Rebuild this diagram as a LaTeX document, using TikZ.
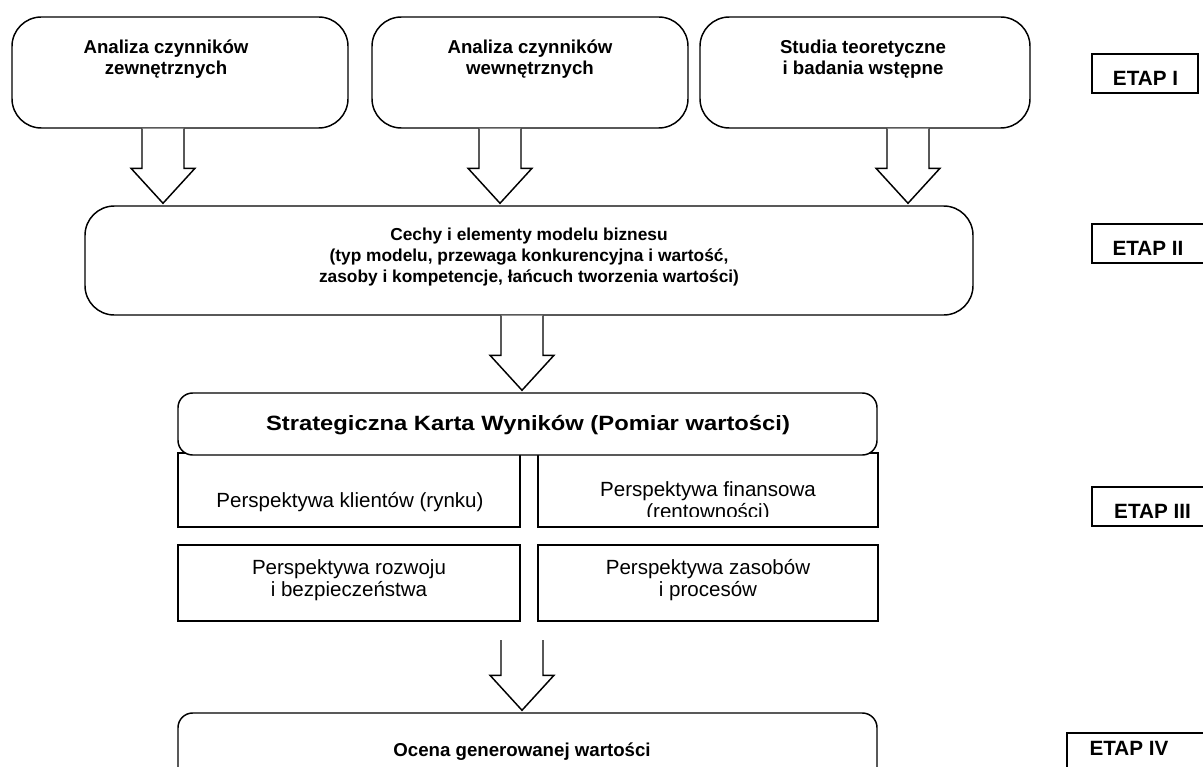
\documentclass[tikz,border=0pt]{standalone}
\usepackage{fontspec}
\setmainfont{Liberation Sans}
\newfontfamily\stretchedsans[FakeStretch=1.15]{Liberation Sans}
\usetikzlibrary{calc}
\tikzset{
  rbox/.style={draw, line width=1.1pt, rounded corners=22pt, fill=white, inner sep=0pt},
  sbox/.style={draw, line width=1.1pt, rounded corners=11pt, fill=white, inner sep=0pt},
  pbox/.style={draw, line width=1.1pt, fill=white, inner sep=0pt},
  eline/.style={line width=1.1pt},
  etext/.style={font=\bfseries\fontsize{15.5}{18}\selectfont, inner sep=0pt, anchor=base},
  btext/.style={font=\bfseries\fontsize{14}{15.8}\selectfont, align=center, inner sep=0pt},
  ntext/.style={font=\fontsize{15.4}{16.5}\selectfont, align=center, inner sep=0pt},
  arrowline/.style={draw, line width=1.1pt, line join=miter, fill=white},
}
\newcommand\fatarrow[2]{\draw[arrowline] ($(#1)+(-21,0)$) -- ($(#2)+(-21,-37)$) -- ($(#2)+(-32,-37)$) -- ($(#2)+(0,-2)$) -- ($(#2)+(32,-37)$) -- ($(#2)+(21,-37)$) -- ($(#1)+(21,0)$);}
\begin{document}
\begin{tikzpicture}[x=0.75pt,y=-0.75pt]
\useasboundingbox (0,0) rectangle (1203,767);

% ETAP I boxes
\node[rbox, minimum width=336*0.75pt, minimum height=111*0.75pt] (b1) at (180,72.5) {};
\node[btext] (t1) at (166,59) {Analiza czynników\\zewnętrznych};
\node[rbox, minimum width=316*0.75pt, minimum height=111*0.75pt] (b2) at (530,72.5) {};
\node[btext] (t2) at (530,59) {Analiza czynników\\wewnętrznych};
\node[rbox, minimum width=330*0.75pt, minimum height=111*0.75pt] (b3) at (865,72.5) {};
\node[btext] (t3) at (863,59) {Studia teoretyczne\\i badania wstępne};

% ETAP II
\node[rbox, minimum width=888*0.75pt, minimum height=109*0.75pt] (cechy) at (529,260.5) {};
\node[btext, font=\bfseries\fontsize{13}{15.4}\selectfont] (tc) at (529,257) {Cechy i elementy modelu biznesu\\(typ modelu, przewaga konkurencyjna i wartość,\\zasoby i kompetencje, łańcuch tworzenia wartości)};

% arrows I -> II
\coordinate (a1s) at ($(b1.south)+(-17,0)$);
\coordinate (a2s) at ($(b2.south)+(-30,0)$);
\coordinate (a3s) at ($(b3.south)+(43,0)$);
\fatarrow{a1s}{cechy.north -| a1s}
\fatarrow{a2s}{cechy.north -| a2s}
\fatarrow{a3s}{cechy.north -| a3s}

% ETAP III
\node[pbox, minimum width=342*0.75pt, minimum height=74*0.75pt] (pk) at (349,490) {};
\node[ntext] (tpk) at (350,502) {Perspektywa klientów (rynku)};
\node[pbox, minimum width=340*0.75pt, minimum height=74*0.75pt] (pf) at (708,490) {};
\begin{scope}
  \clip (pf.north west) rectangle (pf.east |- 0,516);
  \node[ntext] (tpf) at (708,502) {Perspektywa finansowa\\(rentowności)};
\end{scope}
\node[pbox, minimum width=342*0.75pt, minimum height=76*0.75pt] (pr) at (349,583) {};
\node[ntext] (tpr) at (349,580) {Perspektywa rozwoju\\i bezpieczeństwa};
\node[pbox, minimum width=340*0.75pt, minimum height=76*0.75pt] (pz) at (708,583) {};
\node[ntext] (tpz) at (708,580) {Perspektywa zasobów\\i procesów};

\node[sbox, minimum width=699*0.75pt, minimum height=62*0.75pt] (strat) at (527.5,424) {};
\node[btext, font=\stretchedsans\bfseries\fontsize{15.5}{18}\selectfont] (ts) at (528,425) {Strategiczna Karta Wyników (Pomiar wartości)};

\coordinate (a4s) at ($(cechy.south)+(-7,0)$);
\fatarrow{a4s}{strat.north -| a4s}

% ETAP IV
\node[sbox, minimum width=699*0.75pt, minimum height=80*0.75pt] (ocena) at (527.5,753) {};
\node[btext] (to) at (522,752) {Ocena generowanej wartości};
\coordinate (a5s) at (522,640);
\fatarrow{a5s}{ocena.north -| a5s}

% ETAP labels
\draw[eline] (1092,54) rectangle (1198,93);
\node[etext] (e1) at (1145.5,85) {ETAP I};
\draw[eline] (1215,224) -- (1092,224) -- (1092,263) -- (1215,263);
\node[etext] (e2) at (1148,255) {ETAP II};
\draw[eline] (1215,487) -- (1092,487) -- (1092,526) -- (1215,526);
\node[etext] (e3) at (1152.5,518) {ETAP III};
\draw[eline] (1215,733) -- (1067,733) -- (1067,780);
\node[etext] (e4) at (1129,755) {ETAP IV};
\end{tikzpicture}
\end{document}
